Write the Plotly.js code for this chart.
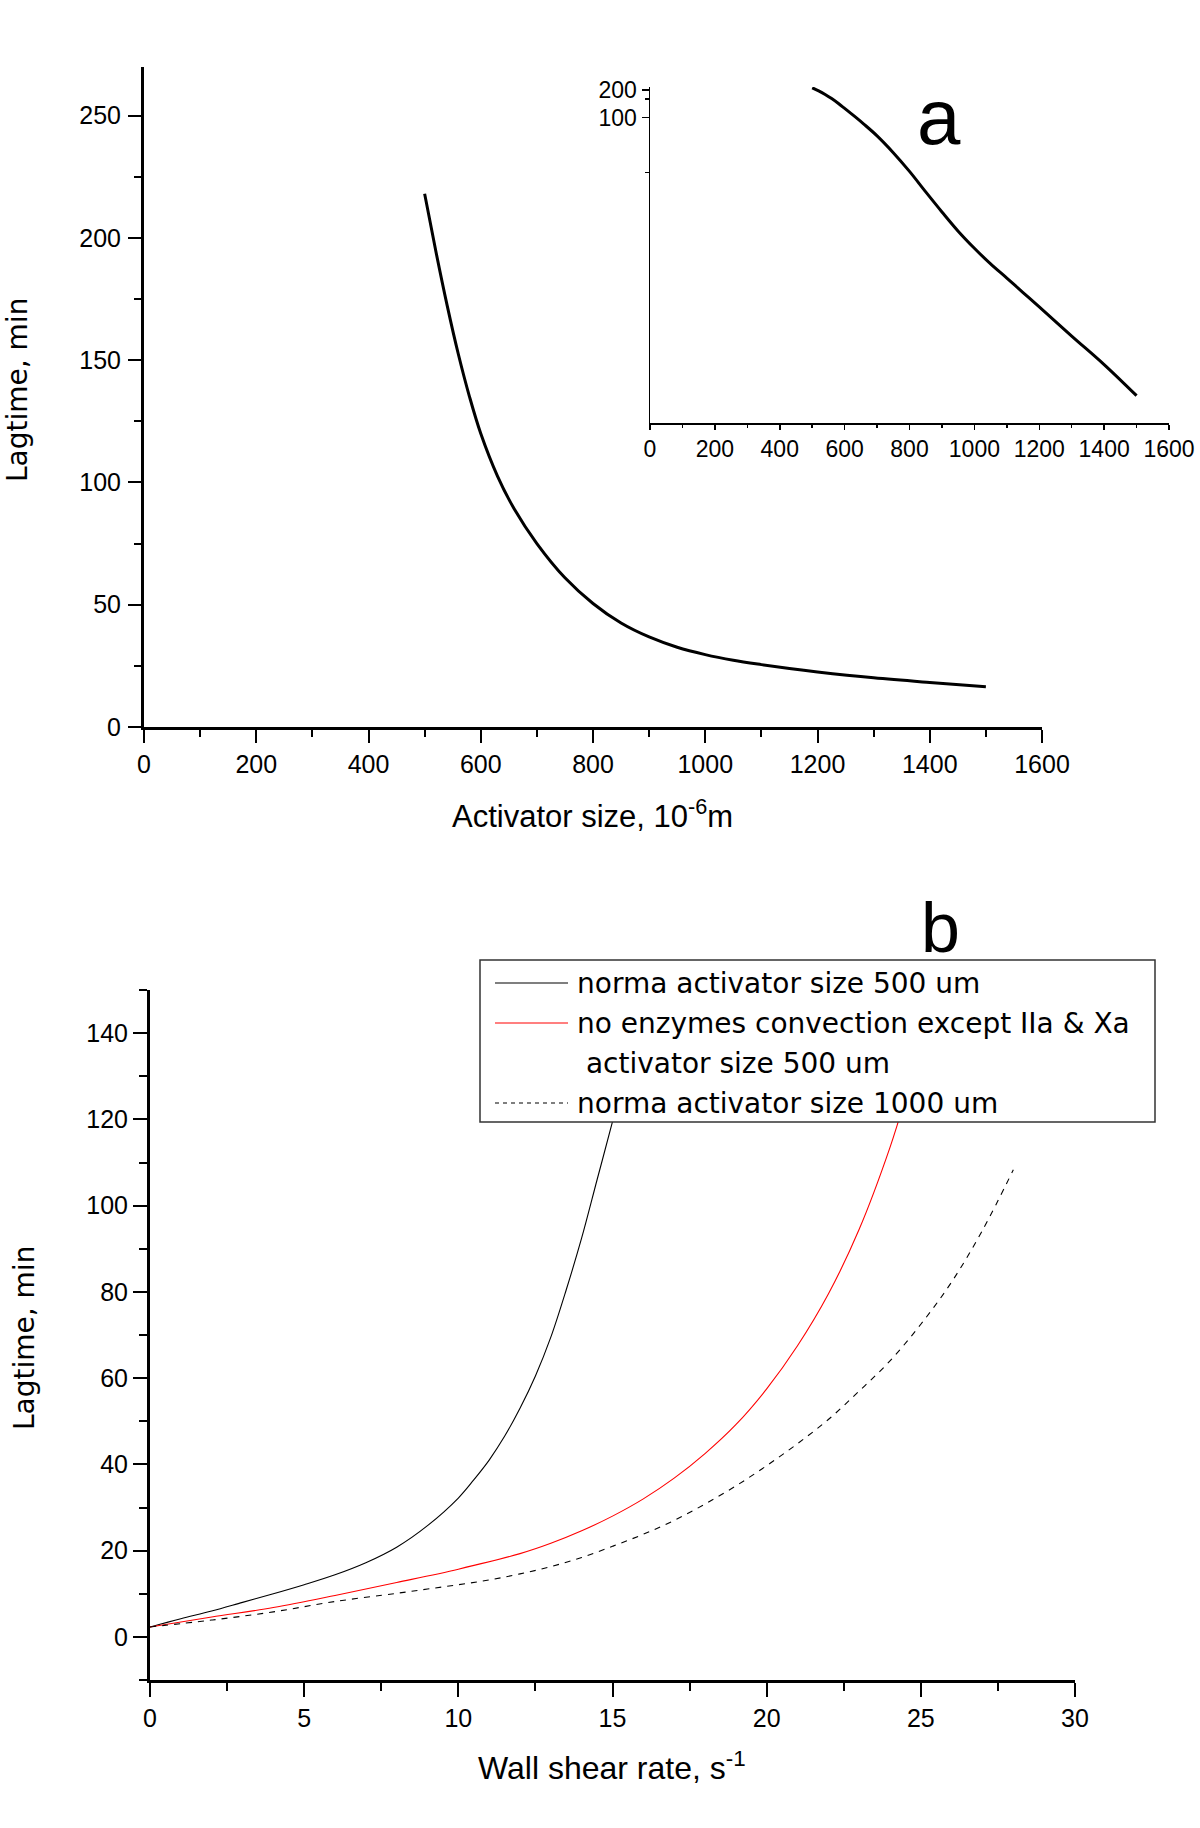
<!DOCTYPE html>
<html>
<head>
<meta charset="utf-8">
<script src="https://cdn.plot.ly/plotly-3.0.1.min.js"></script>
<style>
  html, body { margin: 0; padding: 0; background: #ffffff; }
  #chart { width: 1200px; height: 1828px; }
</style>
</head>
<body>
<div id="chart"></div>
<script>
  // panel a: lag time against activator size (10^-6 m)
  const activatorSize = [500, 520, 540, 560, 580, 600, 630, 660, 700, 750, 800, 850, 900, 950, 1000, 1050, 1100, 1150, 1200, 1300, 1400, 1500];
  const lagTimeA = [218, 194.5, 172.5, 152.5, 135, 120, 102.5, 89, 75, 61, 50.5, 42.5, 36.8, 32.6, 29.6, 27.3, 25.5, 23.9, 22.5, 20.1, 18.2, 16.5];

  // inset uses a reciprocal lag-time scale
  const insetTickLabels = [200, 100];
  const insetMinorTicks = [150, 50];

  // panel b: lag time against wall shear rate (s^-1)
  const shearNorm500 = [0, 1, 2, 3, 4, 5, 6, 7, 8, 9, 10, 10.5, 11, 11.5, 12, 12.5, 13, 13.5, 14, 14.5, 15, 15.5, 16];
  const lagNorm500 = [2.3, 4.2, 6.0, 8.0, 10.0, 12.1, 14.4, 17.2, 20.8, 25.8, 32.2, 36.4, 41, 46.5, 53, 60.5, 69.5, 80.5, 92.5, 106, 119.5, 134, 150];

  const shearNoConv = [0, 2, 4, 6, 8, 10, 12, 13, 14, 15, 16, 17, 18, 19, 20, 21, 22, 23, 24, 24.5, 25, 25.5];
  const lagNoConv = [2.3, 4.6, 6.8, 9.6, 12.6, 15.7, 19.3, 21.7, 24.6, 28, 32, 36.8, 42.5, 49.2, 57.5, 67.5, 79.5, 94.5, 113.5, 125, 138, 152];

  const shearNorm1000 = [0, 2, 4, 6, 8, 9, 10, 11, 12, 13, 14, 15, 16, 17, 18, 19, 20, 21, 22, 23, 24, 25, 26, 27, 28];
  const lagNorm1000 = [2.3, 3.9, 5.8, 8.2, 10.1, 11.1, 12.1, 13.2, 14.6, 16.3, 18.4, 21, 23.8, 27, 30.8, 35, 39.7, 44.8, 50.4, 57, 64, 72.5, 82.3, 94.3, 108.3];

  const legendLines = [
    "norma activator size 500 um",
    "no enzymes convection except IIa & Xa",
    " activator size 500 um",
    "norma activator size 1000 um"
  ];

  const W = 1200;
  const H = 1828;
  const px = (x) => x / W;
  const py = (y) => 1 - y / H;

  const arial = "Liberation Sans, Arial, sans-serif";
  const wide = "DejaVu Sans, Verdana, sans-serif";

  function axisStyle(extra) {
    return Object.assign({
      showline: true,
      linewidth: 3,
      linecolor: "#000",
      showgrid: false,
      zeroline: false,
      ticks: "outside",
      ticklen: 13,
      tickwidth: 2,
      tickcolor: "#000",
      tickfont: { family: arial, size: 25, color: "#000" },
      tickmode: "linear",
      tick0: 0,
      ticklabelstandoff: 0,
      fixedrange: true
    }, extra);
  }

  function minorTicks(dtick, len, width) {
    return { dtick, ticklen: len, tickwidth: width, ticks: "outside", tickcolor: "#000", showgrid: false };
  }

  function curve(x, y, axes, line) {
    return {
      x, y,
      xaxis: axes[0],
      yaxis: axes[1],
      mode: "lines",
      line: Object.assign({ shape: "spline", smoothing: 1 }, line),
      showlegend: false
    };
  }

  const traces = [
    curve(activatorSize, lagTimeA, ["x", "y"], { color: "#000", width: 3 }),
    curve(activatorSize, lagTimeA.map((v) => 1 / v), ["x2", "y2"], { color: "#000", width: 3 }),
    curve(shearNorm500, lagNorm500, ["x3", "y3"], { color: "#000", width: 1.1 }),
    curve(shearNoConv, lagNoConv, ["x3", "y3"], { color: "#ff0000", width: 1.1 }),
    curve(shearNorm1000, lagNorm1000, ["x3", "y3"], { color: "#000", width: 1.1, dash: "6px,6px" })
  ];

  // hand-made legend box for panel b
  const legendRows = [983, 1023, 1063, 1103];
  const legendSamples = [
    { row: 0, color: "#000", dash: "solid" },
    { row: 1, color: "#ff0000", dash: "solid" },
    { row: 3, color: "#000", dash: "4px,4px" }
  ];

  const shapes = [
    {
      type: "rect", xref: "paper", yref: "paper", layer: "above",
      x0: px(480), x1: px(1155), y0: py(1122), y1: py(960),
      fillcolor: "#ffffff", line: { color: "#333", width: 1.5 }
    }
  ].concat(legendSamples.map((s) => ({
    type: "line", xref: "paper", yref: "paper", layer: "above",
    x0: px(495), x1: px(568), y0: py(legendRows[s.row]), y1: py(legendRows[s.row]),
    line: { color: s.color, width: 1.2, dash: s.dash }
  })));

  const annotations = legendLines.map((t, i) => ({
    text: t,
    xref: "paper", yref: "paper",
    x: px(575), y: py(legendRows[i]),
    xanchor: "left", yanchor: "middle",
    showarrow: false,
    font: { family: wide, size: 28, color: "#000" }
  })).concat([
    {
      text: "a", xref: "paper", yref: "paper", x: px(939), y: py(117),
      xanchor: "center", yanchor: "middle", showarrow: false,
      font: { family: arial, size: 78, color: "#000" }
    },
    {
      text: "b", xref: "paper", yref: "paper", x: px(940), y: py(928),
      xanchor: "center", yanchor: "middle", showarrow: false,
      font: { family: arial, size: 70, color: "#000" }
    },
    {
      text: "Activator size, 10<sup>-6</sup>m", xref: "paper", yref: "paper",
      x: px(592), y: py(814), xanchor: "center", yanchor: "middle", showarrow: false,
      font: { family: arial, size: 31, color: "#000" }
    },
    {
      text: "Lagtime, min", xref: "paper", yref: "paper", textangle: -90,
      x: px(17), y: py(390), xanchor: "center", yanchor: "middle", showarrow: false,
      font: { family: wide, size: 28, color: "#000" }
    },
    {
      text: "Wall shear rate, s<sup>-1</sup>", xref: "paper", yref: "paper",
      x: px(612), y: py(1766), xanchor: "center", yanchor: "middle", showarrow: false,
      font: { family: arial, size: 32, color: "#000" }
    },
    {
      text: "Lagtime, min", xref: "paper", yref: "paper", textangle: -90,
      x: px(24), y: py(1338), xanchor: "center", yanchor: "middle", showarrow: false,
      font: { family: wide, size: 28, color: "#000" }
    }
  ]);

  const layout = {
    width: W,
    height: H,
    margin: { l: 0, r: 0, t: 0, b: 0 },
    paper_bgcolor: "#ffffff",
    plot_bgcolor: "rgba(0,0,0,0)",
    showlegend: false,
    xaxis: axisStyle({
      domain: [px(144), px(1042)], range: [0, 1600], dtick: 200, anchor: "y",
      minor: minorTicks(100, 7, 2)
    }),
    yaxis: axisStyle({
      domain: [py(727), py(66.6)], range: [0, 270], dtick: 50, anchor: "x",
      ticklabelstandoff: 2,
      minor: minorTicks(25, 7, 2)
    }),
    xaxis2: axisStyle({
      domain: [px(650), px(1169)], range: [0, 1600], dtick: 200, anchor: "y2",
      linewidth: 1.5, ticklen: 5, tickwidth: 1.5,
      tickfont: { family: arial, size: 23, color: "#000" },
      minor: minorTicks(100, 3, 1.5)
    }),
    yaxis2: axisStyle({
      domain: [py(423), py(87)], range: [1 / 15.25, 1 / 225], anchor: "x2",
      tickmode: "array",
      tickvals: insetTickLabels.map((v) => 1 / v),
      ticktext: insetTickLabels.map(String),
      linewidth: 1.5, ticklen: 7, tickwidth: 1.5,
      tickfont: { family: arial, size: 23, color: "#000" },
      minor: { tickmode: "array", tickvals: insetMinorTicks.map((v) => 1 / v), ticklen: 4, tickwidth: 1.5, ticks: "outside", tickcolor: "#000" }
    }),
    xaxis3: axisStyle({
      domain: [px(150), px(1075)], range: [0, 30], dtick: 5, anchor: "y3",
      ticklen: 14, minor: minorTicks(2.5, 8, 2)
    }),
    yaxis3: axisStyle({
      domain: [py(1680), py(990)], range: [-10, 150], dtick: 20, anchor: "x3",
      ticklen: 14, minor: minorTicks(10, 8, 2)
    }),
    shapes,
    annotations
  };

  Plotly.newPlot("chart", traces, layout, { staticPlot: true, displayModeBar: false });
</script>
</body>
</html>
